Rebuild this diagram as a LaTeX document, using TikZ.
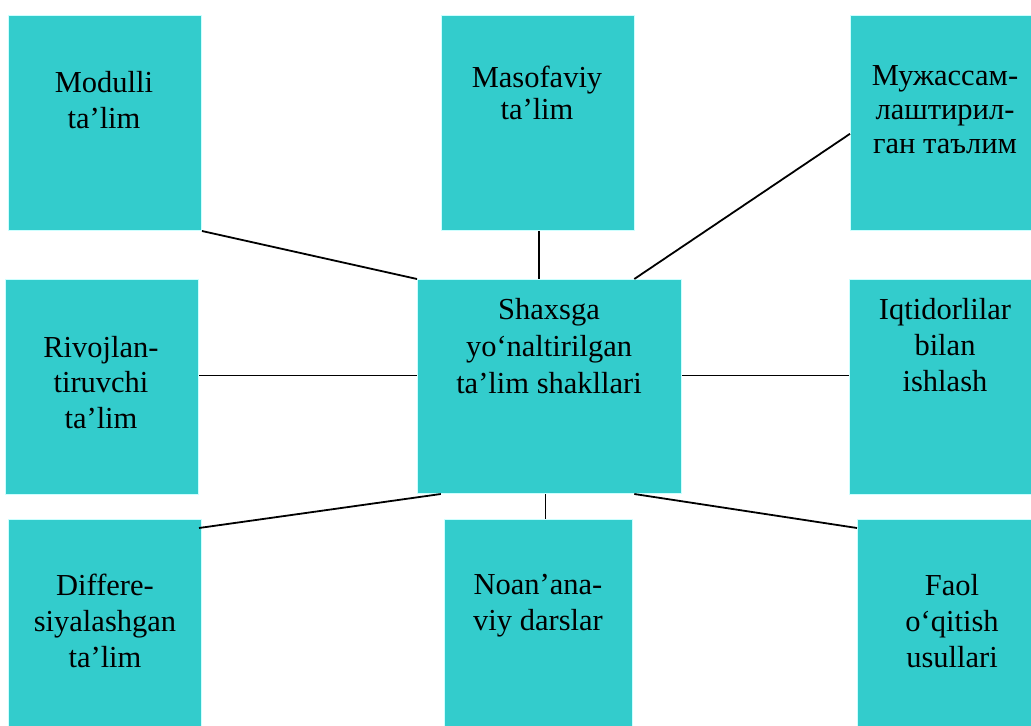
\documentclass[tikz,border=0pt]{standalone}
\usepackage{fontspec}
\setmainfont{Liberation Serif}
\usetikzlibrary{calc}
\definecolor{boxfill}{HTML}{33CCCC}
\definecolor{boxedge}{HTML}{CCFFFF}
\tikzset{
  box/.style={rectangle, fill=boxfill, draw=boxedge, line width=1bp, anchor=north west,
    minimum width=193bp, minimum height=215bp, inner sep=0pt},
  lbl/.style={anchor=north, inner sep=0pt, align=center, text=black,
    font=\fontsize{30.5bp}{36bp}\selectfont},
  conn/.style={draw=black, line width=1.8bp}
}
\begin{document}
\begin{tikzpicture}[x=1bp,y=-1bp]
\useasboundingbox (0,0) rectangle (1031,726);
\clip (0,0) rectangle (1031,726);
% boxes
\node[box] (mod) at (8,15) {};
\node[box] (mas) at (441,15) {};
\node[box] (muj) at (850,15) {};
\node[box] (riv) at (5,279) {};
\node[box, minimum width=264bp, minimum height=214bp] (ctr) at (417,279) {};
\node[box] (iqt) at (849,279) {};
\node[box] (dif) at (8,519) {};
\node[box, minimum width=188bp] (noa) at (444,519) {};
\node[box] (fao) at (857,519) {};
% labels
\node[lbl] (tmod) at (104,71) {Modulli\\ta’lim};
\node[lbl, font=\fontsize{30.5bp}{32bp}\selectfont] (tmas) at (537,66) {Masofaviy\\ta’lim};
\node[lbl, font=\fontsize{30.5bp}{34bp}\selectfont] (tmuj) at (945,65) {Мужассам-\\лаштирил-\\ган таълим};
\node[lbl, font=\fontsize{30.5bp}{35.5bp}\selectfont] (triv) at (101,336) {Rivojlan-\\tiruvchi\\ta’lim};
\node[lbl, font=\fontsize{30.5bp}{37bp}\selectfont] (tctr) at (549,298) {Shaxsga\\yo‘naltirilgan\\ta’lim shakllari};
\node[lbl] (tiqt) at (945,298) {Iqtidorlilar\\bilan\\ishlash};
\node[lbl] (tdif) at (105,574) {Differe-\\siyalashgan\\ta’lim};
\node[lbl] (tnoa) at (538,574) {Noan’ana-\\viy darslar};
\node[lbl] (tfao) at (952,574) {Faol\\o‘qitish\\usullari};
% connectors
\draw[conn] (mod.south east) -- (ctr.north west);
\draw[conn] ($(mas.south)+(1,0)$) coordinate (m1) -- (m1 |- ctr.north);
\draw[conn] ($(muj.north west)!0.55!(muj.south west)$) -- ($(ctr.north west)!0.82!(ctr.north east)$);
\draw[conn] ($(riv.north east)!0.447!(riv.south east)$) coordinate (r1) -- (r1 -| ctr.west);
\draw[conn] ($(iqt.north west)!0.447!(iqt.south west)$) coordinate (i1) -- (i1 -| ctr.east);
\draw[conn] ($(dif.north east)+(-3,9)$) -- ($(ctr.south west)!0.09!(ctr.south east)$);
\draw[conn] ($(ctr.south west)!0.485!(ctr.south east)$) coordinate (n1) -- (n1 |- noa.north);
\draw[conn] ($(ctr.south west)!0.82!(ctr.south east)$) -- ($(fao.north west)+(0,9)$);
\end{tikzpicture}
\end{document}
